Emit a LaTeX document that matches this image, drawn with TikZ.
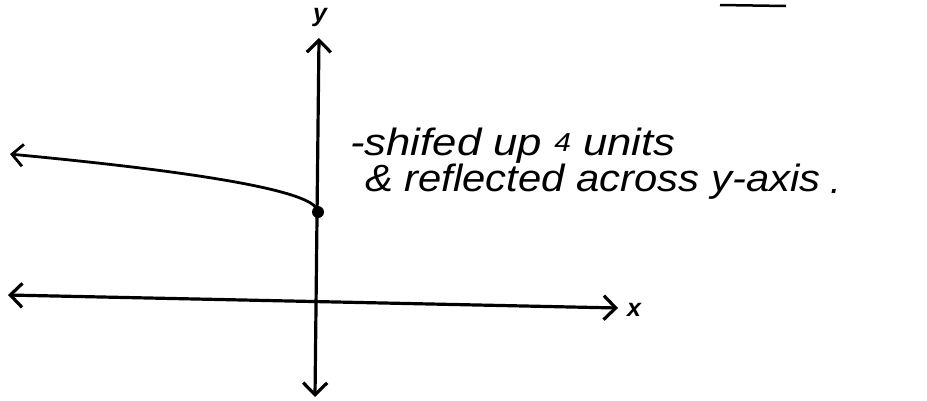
\documentclass[tikz,border=0pt]{standalone}
\usepackage{fontspec}
\setmainfont{Liberation Sans}
\usetikzlibrary{arrows.meta}
\tikzset{
  axisline/.style={line width=3.2pt, {Straight Barb[length=12pt,width=24pt,line width=3.2pt]}-{Straight Barb[length=12pt,width=24pt,line width=3.2pt]}},
  graphline/.style={line width=2.8pt, -{Straight Barb[length=11pt,width=22pt,line width=2.8pt]}},
  axislabel/.style={font=\fontsize{25}{25}\selectfont\bfseries\itshape, inner sep=0pt},
  hand/.style={font=\fontsize{38}{38}\selectfont\itshape, inner sep=0pt, anchor=base west},
  pointdot/.style={circle, fill=black, minimum size=12pt, inner sep=0pt}
}
\begin{document}
\begin{tikzpicture}[x=1pt,y=-1pt]
\useasboundingbox (0,0) rectangle (927,400);
\fill[white] (0,0) rectangle (927,400);
% axes
\coordinate (ytop) at (319,38);
\coordinate (ybot) at (315,397);
\coordinate (xl) at (8,295);
\coordinate (xr) at (618,308);
\draw[axisline] (ybot) -- (ytop);
\draw[axisline] (xl) -- (xr);
\node[axislabel] (ylab) at (320,17) {y};
\node[axislabel] (xlab) at (634,310) {x};
% graph
\node[pointdot] (P) at (318,212) {};
\draw[graphline] plot[domain=0:308, samples=80] ({318-\x},{212-3.3*sqrt(\x)});
% handwritten notes
\node[hand] (l1) at (350,155) {\scalebox{1.15}[1]{-shifed up \raisebox{4pt}{\fontsize{26}{26}\selectfont 4} units}};
\node[hand] (l2) at (365,191) {\scalebox{1.1}[1]{\& reflected across y-axis}};
\node[hand] (dotend) at (830,193) {.};
% top-right underline
\draw[line width=2.5pt] (720,5) -- (786,6);
\end{tikzpicture}
\end{document}
